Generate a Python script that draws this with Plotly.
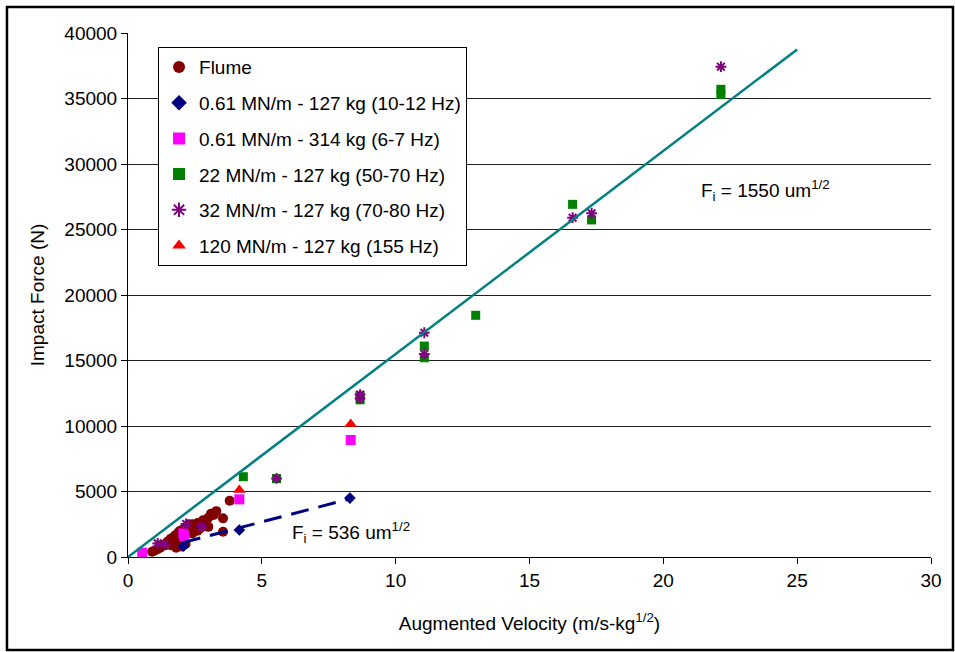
import plotly.graph_objects as go

# ---------------- data ----------------
flume_x = [0.9, 1.0, 1.1, 1.2, 1.25, 1.3, 1.4, 1.45, 1.5, 1.55, 1.6, 1.65, 1.7, 1.75, 1.8, 1.85,
           1.9, 1.95, 2.0, 2.05, 2.1, 2.15, 2.2, 2.3, 2.4, 2.5, 2.6, 2.7, 2.8, 2.9, 3.0, 3.1,
           3.2, 3.3, 3.55, 3.55, 3.8, 2.0, 1.8, 2.25, 2.6, 3.0, 1.6, 2.4]
flume_y = [400, 500, 600, 700, 800, 900, 900, 1100, 1200, 1000, 1400, 1300, 1500, 1600, 1700, 1200,
           1900, 2000, 1500, 1800, 2200, 1000, 2300, 2100, 2500, 2400, 2600, 2200, 2800, 2700, 3000, 3300,
           3200, 3500, 2950, 1930, 4300, 800, 700, 2500, 2000, 2300, 900, 1800]

k061_127_x = [2.07, 4.16, 8.29]
k061_127_y = [820, 2060, 4500]

k061_314_x = [0.53, 2.07, 2.1, 4.16, 8.32]
k061_314_y = [330, 1800, 1600, 4400, 8930]

k22_x = [4.31, 5.55, 8.67, 8.67, 11.07, 11.07, 12.99, 16.61, 17.32, 22.15, 22.15]
k22_y = [6130, 5980, 12000, 12300, 16100, 15210, 18450, 26920, 25730, 35300, 35700]

k32_x = [1.11, 1.38, 2.17, 2.75, 5.55, 8.67, 8.67, 11.07, 11.07, 16.61, 17.32, 22.15]
k32_y = [1040, 970, 2520, 2320, 6000, 12100, 12400, 17120, 15500, 25900, 26240, 37430]

k120_x = [4.16, 8.32]
k120_y = [5110, 10150]

fit_high_coef = 1550
fit_high_x = [0, 25]
fit_low_coef = 536
fit_low_x = [2.05, 8.3]

x_ticks = [0, 5, 10, 15, 20, 25, 30]
y_ticks = [0, 5000, 10000, 15000, 20000, 25000, 30000, 35000, 40000]

FONT = "Arial, Liberation Sans, sans-serif"
FS = 19

fig = go.Figure()

fig.add_trace(go.Scatter(x=flume_x, y=flume_y, mode="markers", name="Flume",
                         legendgroup="a",
                         marker=dict(symbol="circle", size=10, color="#800000")))
fig.add_trace(go.Scatter(x=k061_127_x, y=k061_127_y, mode="markers",
                         name="0.61 MN/m - 127 kg (10-12 Hz)", legendgroup="b",
                         marker=dict(symbol="diamond", size=9, color="#000080")))
fig.add_trace(go.Scatter(x=k061_314_x, y=k061_314_y, mode="markers",
                         name="0.61 MN/m - 314 kg (6-7 Hz)", legendgroup="c",
                         marker=dict(symbol="square", size=10, color="#FF00FF")))
fig.add_trace(go.Scatter(x=k22_x, y=k22_y, mode="markers",
                         name="22 MN/m - 127 kg (50-70 Hz)", legendgroup="d",
                         marker=dict(symbol="square", size=9, color="#008000")))
fig.add_trace(go.Scatter(x=k32_x, y=k32_y, mode="markers",
                         name="32 MN/m - 127 kg (70-80 Hz)", legendgroup="e",
                         marker=dict(symbol="asterisk-open", size=9, color="#800080",
                                     line=dict(color="#800080", width=2))))
fig.add_trace(go.Scatter(x=k120_x, y=k120_y, mode="markers",
                         name="120 MN/m - 127 kg (155 Hz)", legendgroup="f",
                         marker=dict(symbol="triangle-up", size=11, color="#FF0000")))

fig.add_trace(go.Scatter(x=fit_high_x, y=[fit_high_coef * v for v in fit_high_x], mode="lines",
                         showlegend=False, line=dict(color="#008080", width=2.5)))
fig.add_trace(go.Scatter(x=fit_low_x, y=[fit_low_coef * v for v in fit_low_x], mode="lines",
                         showlegend=False, line=dict(color="#000080", width=3, dash="18px,10px")))

fig.add_annotation(x=23.8, y=28000, text="F<sub>i</sub> = 1550 um<sup>1/2</sup>",
                   showarrow=False, font=dict(family=FONT, size=FS, color="black"))
fig.add_annotation(x=8.33, y=1900, text="F<sub>i</sub> = 536 um<sup>1/2</sup>",
                   showarrow=False, font=dict(family=FONT, size=FS, color="black"))

# outer frame
fig.add_shape(type="rect", xref="paper", yref="paper",
              x0=-0.1507, x1=1.0274, y0=-0.1775, y1=1.0496,
              line=dict(color="black", width=2.5), layer="below")

fig.update_layout(
    width=955, height=652,
    margin=dict(l=128, r=24, t=33, b=95),
    paper_bgcolor="white", plot_bgcolor="white",
    font=dict(family=FONT, size=FS, color="black"),
    showlegend=True,
    legend=dict(x=0.0374, y=0.973, xanchor="left", yanchor="top",
                bgcolor="white", bordercolor="black", borderwidth=1,
                font=dict(family=FONT, size=FS, color="black"),
                tracegroupgap=8, itemsizing="constant"),
    xaxis=dict(range=[0, 30], tickmode="array", tickvals=x_ticks,
               ticktext=[str(v) for v in x_ticks],
               showgrid=False, zeroline=False,
               showline=True, linecolor="black", linewidth=1,
               ticks="outside", ticklen=6, tickcolor="black",
               tickfont=dict(family=FONT, size=FS),
               title=dict(text="Augmented Velocity (m/s-kg<sup>1/2</sup>)", standoff=26,
                          font=dict(family=FONT, size=FS))),
    yaxis=dict(range=[0, 40000], tickmode="array", tickvals=y_ticks,
               ticktext=[str(v) for v in y_ticks],
               showgrid=True, gridcolor="#202020", gridwidth=1,
               zeroline=False, showline=True, linecolor="black", linewidth=1,
               ticks="outside", ticklen=6, tickcolor="black",
               tickfont=dict(family=FONT, size=FS),
               title=dict(text="Impact Force (N)", standoff=14,
                          font=dict(family=FONT, size=FS))),
)

fig.write_html("out.html")
